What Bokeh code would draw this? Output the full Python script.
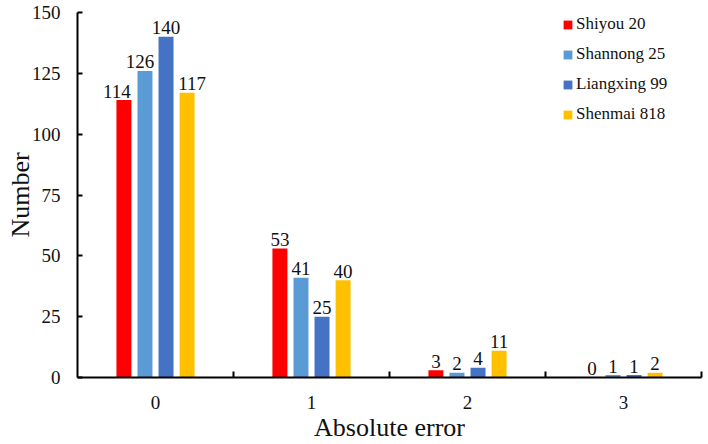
from bokeh.plotting import figure
from bokeh.models import (ColumnDataSource, Range1d, FixedTicker, Legend, LegendItem)
from bokeh.transform import dodge
from bokeh.embed import file_html
from bokeh.resources import INLINE

# ---- data ----
categories = ["0", "1", "2", "3"]
series_names = ["Shiyou 20", "Shannong 25", "Liangxing 99", "Shenmai 818"]
shiyou_20 = [114, 53, 3, 0]
shannong_25 = [126, 41, 2, 1]
liangxing_99 = [140, 25, 4, 1]
shenmai_818 = [117, 40, 11, 2]
y_ticks = [0, 25, 50, 75, 100, 125, 150]

series_values = [shiyou_20, shannong_25, liangxing_99, shenmai_818]
colors = ["#FF0000", "#5B9BD5", "#4472C4", "#FFC000"]
# small horizontal nudges (px) of value labels, as in the original layout
label_nudges = [[-7, 0, 0, 0], [-5, 0, 0, 0], [0, 0, 0, 0], [5, 0, 0, 0]]

FONT = "Liberation Serif"
TXT = "#111111"

p = figure(width=708, height=444, output_backend="svg", toolbar_location=None,
           x_range=Range1d(-0.5, 3.5), y_range=Range1d(0, 150),
           min_border_left=77, min_border_right=7, min_border_top=12,
           min_border_bottom=65)
p.outline_line_color = None
p.grid.visible = False
p.background_fill_color = "white"
p.border_fill_color = "white"

slot = 0.135
bar_w = 0.096
renderers = []
for i, (name, vals, col) in enumerate(zip(series_names, series_values, colors)):
    src = ColumnDataSource(dict(x=list(range(len(categories))), y=vals,
                                lab=[str(v) for v in vals],
                                dx=label_nudges[i]))
    off = (i - 1.5) * slot
    r = p.vbar(x=dodge("x", off), top="y", width=bar_w, source=src,
               fill_color=col, line_color=None)
    renderers.append(r)
    p.text(x=dodge("x", off), y="y", text="lab", source=src, x_offset="dx",
           text_align="center", text_baseline="alphabetic", y_offset=-9,
           text_font=FONT, text_font_size="19px", text_color=TXT)

# x axis
xa = p.xaxis[0]
xa.ticker = FixedTicker(ticks=list(range(len(categories))),
                        minor_ticks=[0.5, 1.5, 2.5, 3.5])
xa.major_label_overrides = {i: c for i, c in enumerate(categories)}
xa.major_tick_line_color = None
xa.minor_tick_in = 6
xa.minor_tick_out = 0
xa.minor_tick_line_width = 2
xa.minor_tick_line_color = "black"
xa.axis_line_width = 2
xa.axis_line_color = "black"
xa.major_label_text_font = FONT
xa.major_label_text_font_size = "19px"
xa.major_label_text_color = TXT
xa.major_label_standoff = 12
xa.major_label_text_line_height = 0.9
xa.axis_label = "Absolute error"
xa.axis_label_text_font = FONT
xa.axis_label_text_font_size = "26px"
xa.axis_label_text_font_style = "normal"
xa.axis_label_text_color = TXT
xa.axis_label_text_line_height = 0.9
xa.axis_label_standoff = 1

# y axis
ya = p.yaxis[0]
ya.ticker = FixedTicker(ticks=y_ticks)
ya.major_tick_in = 5
ya.major_tick_out = 0
ya.major_tick_line_width = 2
ya.minor_tick_line_color = None
ya.axis_line_width = 2
ya.axis_line_color = "black"
ya.major_label_text_font = FONT
ya.major_label_text_font_size = "19px"
ya.major_label_text_color = TXT
ya.major_label_standoff = 17
ya.axis_label = "Number"
ya.axis_label_text_font = FONT
ya.axis_label_text_font_size = "26px"
ya.axis_label_text_font_style = "normal"
ya.axis_label_text_color = TXT
ya.axis_label_text_line_height = 0.9
ya.axis_label_standoff = -6

legend = Legend(items=[LegendItem(label=n, renderers=[r])
                       for n, r in zip(series_names, renderers)],
                location=(485, 253), orientation="vertical",
                glyph_width=11, glyph_height=11, label_height=20,
                spacing=10, label_standoff=3, padding=0, margin=0,
                border_line_color=None, background_fill_alpha=0,
                label_text_font=FONT, label_text_font_size="17px",
                label_text_color=TXT)
p.add_layout(legend)

open("out.html", "w").write(file_html(p, INLINE))
